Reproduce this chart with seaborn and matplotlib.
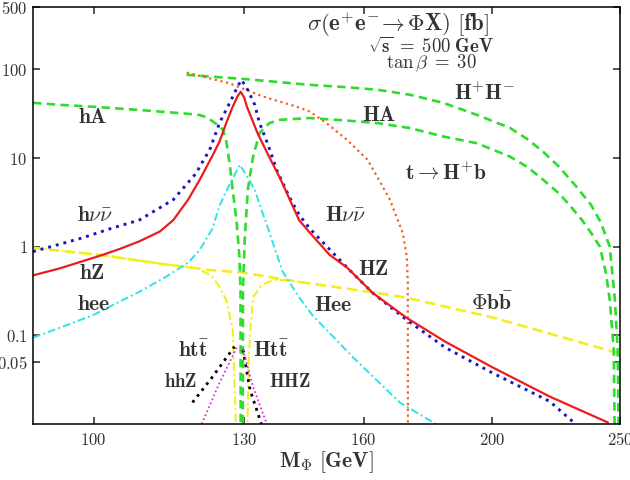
import matplotlib
matplotlib.use("Agg")
import matplotlib.pyplot as plt
import seaborn as sns
import pandas as pd
from matplotlib.ticker import NullLocator

# Data (x = M_Phi [GeV], y = sigma [fb])
hZ_x = [90, 94.3, 101.1, 104.6, 108.3, 112.2, 114.9, 117.9, 120.3, 123.1, 124.5, 126.0,
        127.4, 128.5, 129.2, 130.0, 130.6, 133.0, 135.5, 138.3, 143, 145.7, 150.8,
        155.5, 162.6, 172.4, 184.4, 200, 221.2, 244.8]
hZ_y = [0.475, 0.57, 0.79, 0.94, 1.15, 1.48, 2.0, 3.4, 5.7, 10.9, 15.3, 25,
        38, 50, 56, 48, 38, 19.3, 10.9, 6.0, 2.0, 1.44, 0.81,
        0.58, 0.30, 0.158, 0.085, 0.044, 0.0204, 0.0104]

hnn_x = [90, 98.1, 103, 108.3, 114.9, 119.6, 120.3, 122.4, 124.5, 127.4, 128.6, 129.4,
         130.8, 132.4, 133.5, 135.5, 137.5, 140.7, 143, 145.7, 155.5, 162.6, 172.4,
         184.4, 200, 221.2, 231]
hnn_y = [0.88, 1.26, 1.6, 2.0, 3.4, 6.8, 8.0, 12.4, 24.8, 49, 66, 76,
         58.6, 39.8, 24.8, 14.1, 7.4, 3.57, 2.3, 1.6, 0.58, 0.30, 0.15,
         0.073, 0.038, 0.018, 0.0102]

hee_x = [90, 94.3, 100, 102.8, 108.3, 113.5, 117.9, 120.3, 123, 124.5, 126.7, 129.0,
         130.8, 132.4, 133.5, 135.2, 137.2, 139, 143, 146.3, 157, 170.4, 181.4]
hee_y = [0.094, 0.122, 0.17, 0.21, 0.31, 0.46, 0.66, 0.92, 1.6, 2.9, 5.0, 8.4,
         6.0, 4.4, 3.0, 1.77, 0.92, 0.52, 0.27, 0.17, 0.057, 0.0175, 0.01]

hA_x = [90, 94.3, 100, 108.3, 113.5, 117.9, 120.3, 121.8, 123.1, 124.2, 125.3, 126.0,
        126.8, 127.4, 128.3, 128.9, 129.15, 129.2]
hA_y = [42, 39.9, 37.9, 34.9, 33, 31.6, 30.6, 28.7, 25.8, 23.5, 20.8, 15.4,
        8.1, 4.4, 1.86, 0.77, 0.33, 0.005]

HA_x = [129.65, 129.7, 130.1, 130.8, 132.0, 133.5, 135.8, 138.3, 142.4, 145.7, 155.5,
        163.9, 173.5, 183.8, 194.9, 206.4, 212.6, 218.7, 224.8, 229.2, 234, 238,
        241.4, 244, 245.6, 247.3, 247.8]
HA_y = [0.005, 0.33, 1.2, 4.4, 10.4, 19.2, 24.8, 27.0, 27.7, 28.3, 26.5,
        24.8, 21.8, 17.5, 14.7, 10.4, 8.0, 5.7, 4.0, 2.9, 2.0, 1.4,
        1.0, 0.5, 0.25, 0.069, 0.005]

HpHm_x = [117.6, 130, 145.7, 155.5, 163.9, 173.5, 183.8, 194.9, 206.4, 212.6, 218.7,
          224.8, 231.6, 237.6, 241.7, 245.6, 247.8, 249.0, 249.5]
HpHm_y = [87, 78, 67, 63, 59, 51.8, 42, 30.7, 21.9, 16.5, 11.8,
          8.0, 4.8, 3.0, 1.9, 1.0, 0.25, 0.069, 0.005]

tHb_x = [117.6, 126.6, 134.3, 142.4, 145.7, 150.0, 155.5, 161.1, 163.6, 167.5, 171.3,
         172.5, 172.8, 172.85]
tHb_y = [92, 70, 49.5, 38, 33.4, 24.8, 16, 9.6, 6.4, 3.4, 1.43,
         0.77, 0.4, 0.005]

Abb_x = [90, 101, 113.5, 116.8, 121.8, 129.6, 143, 161.7, 172.4, 200, 248.5, 250]
Abb_y = [0.97, 0.81, 0.63, 0.60, 0.55, 0.51, 0.40, 0.31, 0.266, 0.16, 0.064, 0.062]

hbb_x = [90, 101, 113.5, 120, 123, 124.6, 126, 127.4, 128.3]
hbb_y = [0.97, 0.81, 0.63, 0.57, 0.46, 0.345, 0.25, 0.116, 0.005]

Hbb_x = [130.6, 131.0, 131.4, 132, 134, 136.6, 140, 145]
Hbb_y = [0.005, 0.05, 0.12, 0.27, 0.37, 0.42, 0.42, 0.39]

htt_x = [118.8, 123, 127.8]
htt_y = [0.0175, 0.034, 0.0746]
Htt_x = [129.7, 131.3, 133.8, 134.5]
Htt_y = [0.069, 0.0245, 0.0104, 0.008]

hhZ_x = [120.7, 124.5, 128.3]
hhZ_y = [0.01, 0.029, 0.0727]
HHZ_x = [129.7, 132, 135.2]
HHZ_y = [0.069, 0.0263, 0.01]

x_ticks = [100, 130, 160, 200, 250]
y_ticks = [0.05, 0.1, 1, 10, 100, 500]
y_tick_labels = ["0.05", "0.1", "1", "10", "100", "500"]

sns.set_style("ticks")
plt.rcParams["font.family"] = "DejaVu Serif"
plt.rcParams["mathtext.fontset"] = "cm"

fig = plt.figure(figsize=(6.3, 4.8), dpi=100)
ax = fig.add_axes([0.0524, 0.1167, 0.9317, 0.8677])

RED, BLUE, GREEN = "#ec1c1c", "#1616c8", "#2ddc2d"
CYAN, ORANGE, YELLOW = "#2ee2ea", "#ee6222", "#f2ee22"
MAGENTA = "#dd33dd"


def curve(x, y, color, ls, lw):
    df = pd.DataFrame({"m": x, "sigma": y})
    sns.lineplot(data=df, x="m", y="sigma", ax=ax, color=color, linestyle=ls,
                 linewidth=lw, sort=False, estimator=None, legend=False)


dots = (0, (1, 1.7))
dash = (0, (3.2, 2.0))
dashdot = (0, (4, 1.6, 1, 1.6))

curve(Abb_x, Abb_y, YELLOW, (0, (4, 2)), 1.9)
curve(hbb_x, hbb_y, YELLOW, dashdot, 1.5)
curve(Hbb_x, Hbb_y, YELLOW, dashdot, 1.5)
curve(hee_x, hee_y, CYAN, dashdot, 1.4)
curve(hA_x, hA_y, GREEN, dash, 1.9)
curve(HA_x, HA_y, GREEN, dash, 1.9)
curve(HpHm_x, HpHm_y, GREEN, dash, 1.9)
curve(tHb_x, tHb_y, ORANGE, (0, (1, 1.6)), 1.6)
curve(hnn_x, hnn_y, BLUE, dots, 2.1)
curve(hZ_x, hZ_y, RED, "-", 1.6)
curve(htt_x, htt_y, "black", dots, 2.0)
curve(Htt_x, Htt_y, "black", dots, 2.0)
curve(hhZ_x, hhZ_y, MAGENTA, (0, (1, 1.4)), 1.3)
curve(HHZ_x, HHZ_y, MAGENTA, (0, (1, 1.4)), 1.3)

ax.set_xscale("log")
ax.set_yscale("log")
ax.set_xlim(90, 250)
ax.set_ylim(0.01, 500)
ax.xaxis.set_minor_locator(NullLocator())
ax.yaxis.set_minor_locator(NullLocator())
ax.set_xticks(x_ticks)
ax.set_xticklabels([r"$\mathrm{%d}$" % t for t in x_ticks])
ax.set_yticks(y_ticks)
ax.set_yticklabels([r"$\mathrm{%s}$" % t for t in y_tick_labels])
ax.tick_params(which="major", direction="in", length=5, width=1.1,
               top=True, right=True, labelsize=12, labelcolor="#333333")
ax.tick_params(axis="x", pad=6)
ax.tick_params(axis="y", pad=4)
for s in ax.spines.values():
    s.set_linewidth(1.1)
    s.set_color("black")
ax.set_xlabel("")
ax.set_ylabel("")

TXT = "#333333"
labels = [
    (r"$\mathbf{hA}$", 99.8, 29.2),
    (r"$\mathbf{h}\nu\bar{\nu}$", 100.2, 2.29),
    (r"$\mathbf{hZ}$", 99.8, 0.51),
    (r"$\mathbf{hee}$", 100, 0.228),
    (r"$\mathbf{ht\bar{t}}$", 119.0, 0.067),
    (r"$\mathbf{Ht\bar{t}}$", 136.2, 0.067),
    (r"$\mathbf{Hee}$", 151.8, 0.222),
    (r"$\mathbf{HZ}$", 162.8, 0.565),
    (r"$\mathbf{\Phi b\bar{b}}$", 200, 0.228),
    (r"$\mathbf{H}\nu\bar{\nu}$", 155.1, 2.29),
    (r"$\mathbf{t \rightarrow H^{+}b}$", 184.7, 6.65),
    (r"$\mathbf{HA}$", 164.5, 30.7),
    (r"$\mathbf{H^{+}H^{-}}$", 197.5, 53),
]
for txt, lx, ly in labels:
    ax.text(lx, ly, txt, fontsize=15.5, color=TXT, ha="center", va="center")
ax.text(116.3, 0.030, r"$\mathbf{hhZ}$", fontsize=13.5, color=TXT,
        ha="center", va="center")
ax.text(140.7, 0.030, r"$\mathbf{HHZ}$", fontsize=13.5, color=TXT,
        ha="center", va="center")

ax.text(169.9, 318, r"$\sigma(\mathbf{e^{+}e^{-}\!\rightarrow \Phi X})\ [\mathbf{fb}]$",
        fontsize=16.5, color=TXT, ha="center", va="center")
ax.text(179.9, 180, r"$\sqrt{\mathbf{s}}\;\mathbf{=\;500\;GeV}$",
        fontsize=13.5, color=TXT, ha="center", va="center")
ax.text(179.9, 117, r"$\tan\beta\;\mathbf{=\;30}$",
        fontsize=13.5, color=TXT, ha="center", va="center")

fig.text(326 / 630, 1 - 462 / 480, r"$\mathbf{M_{\Phi}}\ [\mathbf{GeV}]$",
         fontsize=15.5, color=TXT, ha="center", va="center")

fig.savefig("out.png", dpi=100)
